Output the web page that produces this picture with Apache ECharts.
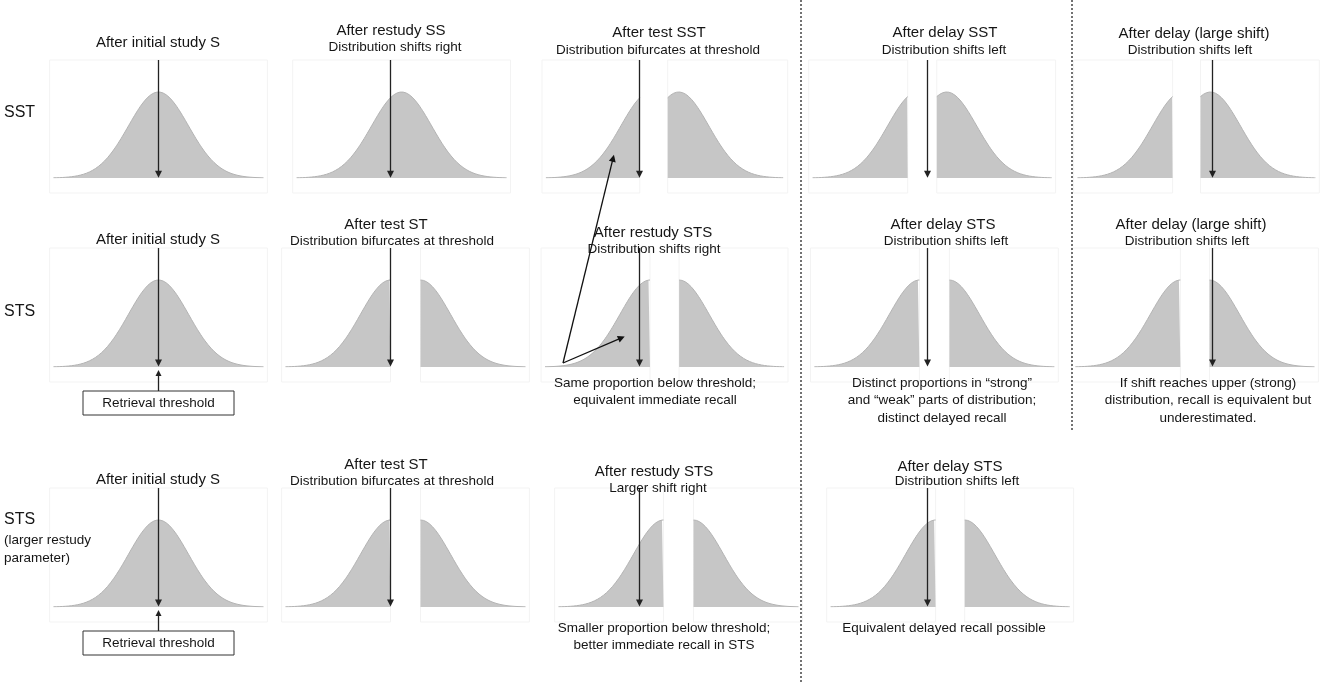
<!DOCTYPE html>
<html>
<head>
<meta charset="utf-8">
<title>Retrieval threshold distributions</title>
<script src="https://cdn.jsdelivr.net/npm/echarts@6/dist/echarts.min.js"></script>
<style>
html,body{margin:0;padding:0;background:#fff;}
#main{width:1325px;height:682px;}
</style>
</head>
<body>
<div id="main"></div>
<script>
// 每个小图的数据：分布均值相对阈值的位移（单位：标准差）、切分点（相对均值）、切开后的间隔
var panelRow  = [0, 0, 0, 0, 0,   1, 1, 1, 1, 1,   2, 2, 2, 2];
var panelCol  = [0, 1, 2, 3, 4,   0, 1, 2, 3, 4,   0, 1, 2, 3];
var meanShift = [0, 0.37, 0.38, -0.33, -1.0,   0, 0, 0.35, -0.27, -1.07,   0, 0, 0.8, 0.27];
var cutPoint  = [null, null, -0.37, -0.33, -0.33,   null, 0, 0, 0, 0,   null, 0, 0, 0];
var gapWidth  = [0, 0, 0.93, 0.97, 0.93,   0, 1.0, 0.97, 1.0, 0.97,   0, 1.0, 1.0, 0.97];
var tailSd = 3.5;

// 文字
var rowLabels = ['SST', 'STS', 'STS'];
var rowSubLabels = ['(larger restudy', 'parameter)'];
var titles = ['After initial study S', 'After restudy SS', 'After test SST', 'After delay SST', 'After delay (large shift)',
  'After initial study S', 'After test ST', 'After restudy STS', 'After delay STS', 'After delay (large shift)',
  'After initial study S', 'After test ST', 'After restudy STS', 'After delay STS'];
var subtitles = ['', 'Distribution shifts right', 'Distribution bifurcates at threshold', 'Distribution shifts left', 'Distribution shifts left',
  '', 'Distribution bifurcates at threshold', 'Distribution shifts right', 'Distribution shifts left', 'Distribution shifts left',
  '', 'Distribution bifurcates at threshold', 'Larger shift right', 'Distribution shifts left'];
var notes = [[], [], [], [], [],
  [], [], ['Same proportion below threshold;', 'equivalent immediate recall'],
  ['Distinct proportions in \u201cstrong\u201d', 'and \u201cweak\u201d parts of distribution;', 'distinct delayed recall'],
  ['If shift reaches upper (strong)', 'distribution, recall is equivalent but', 'underestimated.'],
  [], [], ['Smaller proportion below threshold;', 'better immediate recall in STS'], ['Equivalent delayed recall possible']];
var thresholdLabel = 'Retrieval threshold';

// 版式
var SD_PX = 30;
var colX = [158.5, 390.5, 639.5, 927.5, 1212.5];
var colMin = [-5, -5.5, -5.5, -5.5, -5];
var colMax = [5, 5.5, 5.5, 5.5, 3.6];
var rowTop = [60, 248, 488];
var rowBase = [178, 367, 607];
var rowPeak = [86, 87, 87];
var titleX = [158, 391, 659, 945, 1194,  158, 386, 653, 943, 1191,  158, 386, 654, 950];
var titleY = [43, 31, 33, 33, 34,  240, 225, 233, 225, 225,  480, 465, 472, 467];
var subX = [0, 395, 658, 944, 1190,  0, 392, 654, 946, 1187,  0, 392, 658, 957];
var subY = [0, 47, 50, 50, 50,  0, 241, 249, 241, 241,  0, 481, 488, 481];
var noteX = [0, 0, 0, 0, 0,  0, 0, 655, 942, 1208,  0, 0, 664, 944];
var noteY = [383, 383, 628];
var FONT = '"Liberation Sans", Arial, Helvetica, sans-serif';
var INK = '#151515';

function gauss(z) { return Math.exp(-z * z / 2); }

// 分布的各段（x范围和平移量）
function pieceList(i) {
  var mu = meanShift[i], cut = cutPoint[i], gap = gapWidth[i];
  if (cut === null) return [{ a: mu - tailSd, b: mu + tailSd, off: 0, side: 'both' }];
  return [
    { a: mu - tailSd, b: mu + cut, off: 0, side: 'left' },
    { a: mu + cut + gap, b: mu + tailSd + gap, off: gap, side: 'right' }
  ];
}

function piecePoints(i, p) {
  var pts = [], step = 0.05, x;
  for (x = p.a; x < p.b; x += step) {
    pts.push([x, gauss(x - p.off - meanShift[i])]);
  }
  pts.push([p.b, gauss(p.b - p.off - meanShift[i])]);
  return pts;
}

var grids = [], xAxes = [], yAxes = [], series = [];
for (var i = 0; i < panelRow.length; i++) {
  var r = panelRow[i], c = panelCol[i];
  var yMax = (rowBase[r] - rowTop[r]) / rowPeak[r];
  grids.push({ left: colX[c] + colMin[c] * SD_PX, width: (colMax[c] - colMin[c]) * SD_PX,
    top: rowTop[r], height: rowBase[r] - rowTop[r] });
  xAxes.push({ gridIndex: i, type: 'value', min: colMin[c], max: colMax[c], show: false });
  yAxes.push({ gridIndex: i, type: 'value', min: 0, max: yMax, show: false });
  pieceList(i).forEach(function (p) {
    series.push({
      type: 'line', xAxisIndex: i, yAxisIndex: i, data: piecePoints(i, p),
      showSymbol: false, symbol: 'none', silent: true, z: 2,
      lineStyle: { color: '#b3b3b3', width: 1 },
      areaStyle: { color: '#c6c6c6', opacity: 1 }
    });
  });
  // 阈值箭头
  series.push({
    type: 'lines', coordinateSystem: 'cartesian2d', xAxisIndex: i, yAxisIndex: i,
    data: [{ coords: [[0, yMax], [0, 0.045]] }],
    symbol: ['none', 'triangle'], symbolSize: 7, silent: true, z: 5,
    lineStyle: { color: '#222', width: 1.3, opacity: 1 }
  });
}

// STS 重学后的两个注释箭头（第2行第3个图的坐标）
series.push({
  type: 'lines', coordinateSystem: 'cartesian2d', xAxisIndex: 7, yAxisIndex: 7, clip: false,
  data: [
    { coords: [[-2.55, 0.046], [-0.88, 2.40]] },
    { coords: [[-2.55, 0.046], [-0.6, 0.335]] }
  ],
  symbol: ['none', 'triangle'], symbolSize: 7, silent: true, z: 6,
  lineStyle: { color: '#111', width: 1.3, opacity: 1 }
});

var chart = echarts.init(document.getElementById('main'));
chart.setOption({
  animation: false,
  backgroundColor: '#fff',
  grid: grids, xAxis: xAxes, yAxis: yAxes, series: series
});

// 附加图形：浅色框、文字、虚线、阈值框
var g = [];
function text(str, x, y, size, align) {
  g.push({ type: 'text', x: x, y: y, silent: true, z: 10,
    style: { text: str, font: size + 'px ' + FONT, fill: INK, align: align || 'center', verticalAlign: 'middle' } });
}

for (var k = 0; k < panelRow.length; k++) {
  var rr = panelRow[k];
  var ym = (rowBase[rr] - rowTop[rr]) / rowPeak[rr];
  var yb = -15 / rowPeak[rr];
  pieceList(k).forEach(function (p) {
    var padL = (p.side === 'right') ? 0 : 0.13, padR = (p.side === 'left') ? 0 : 0.13;
    var tl = chart.convertToPixel({ gridIndex: k }, [p.a - padL, ym]);
    var br = chart.convertToPixel({ gridIndex: k }, [p.b + padR, yb]);
    g.push({ type: 'rect', silent: true, z: 0,
      shape: { x: tl[0], y: tl[1], width: br[0] - tl[0], height: br[1] - tl[1] },
      style: { fill: 'none', stroke: '#f3f3f3', lineWidth: 1 } });
  });
  text(titles[k], titleX[k], titleY[k], 15);
  if (subtitles[k]) text(subtitles[k], subX[k], subY[k], 13.5);
  notes[k].forEach(function (line, j) {
    text(line, noteX[k], noteY[rr] + j * 17.5, 13.5);
  });
}

text(rowLabels[0], 4, 113, 16, 'left');
text(rowLabels[1], 4, 312, 16, 'left');
text(rowLabels[2], 4, 520, 16, 'left');
text(rowSubLabels[0], 4, 540, 13.5, 'left');
text(rowSubLabels[1], 4, 558, 13.5, 'left');

// 分隔虚线
g.push({ type: 'line', silent: true, shape: { x1: 801, y1: 0, x2: 801, y2: 682 },
  style: { stroke: '#444', lineWidth: 1.5, lineDash: [2, 2] } });
g.push({ type: 'line', silent: true, shape: { x1: 1072, y1: 0, x2: 1072, y2: 430 },
  style: { stroke: '#444', lineWidth: 1.5, lineDash: [2, 2] } });

// 阈值说明框
[5, 10].forEach(function (idx) {
  var rw = panelRow[idx];
  var top = rowBase[rw] + 24;
  var cx = chart.convertToPixel({ gridIndex: idx }, [0, 0])[0];
  g.push({ type: 'rect', silent: true, shape: { x: 83, y: top, width: 151, height: 24 },
    style: { fill: '#fff', stroke: '#333', lineWidth: 1 } });
  text(thresholdLabel, cx, top + 12.5, 13.5);
  g.push({ type: 'line', silent: true, shape: { x1: cx, y1: top, x2: cx, y2: rowBase[rw] + 8 },
    style: { stroke: '#222', lineWidth: 1.3 } });
  g.push({ type: 'polygon', silent: true,
    shape: { points: [[cx, rowBase[rw] + 3], [cx - 3, rowBase[rw] + 9], [cx + 3, rowBase[rw] + 9]] },
    style: { fill: '#222' } });
});

chart.setOption({ graphic: g });
</script>
</body>
</html>
